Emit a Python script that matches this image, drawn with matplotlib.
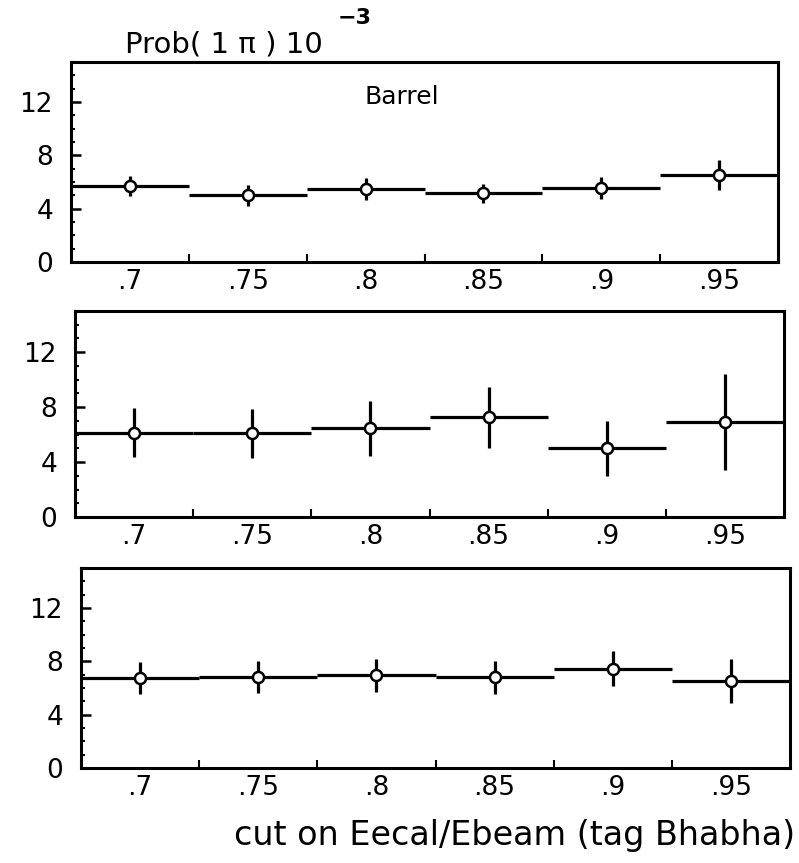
import matplotlib
matplotlib.use("Agg")
import matplotlib.pyplot as plt
from matplotlib.ticker import MultipleLocator, FixedLocator

plt.rcParams['font.family'] = ['DejaVu Sans']

# bin centres (cut value) and labels
cuts = [0.70, 0.75, 0.80, 0.85, 0.90, 0.95]
cut_labels = ['.7', '.75', '.8', '.85', '.9', '.95']
bin_half = 0.025

# Prob(1 pi) in units of 1e-3, with errors, one list per panel
prob_barrel = [5.7, 5.0, 5.45, 5.15, 5.55, 6.5]
err_barrel = [0.75, 0.8, 0.82, 0.7, 0.8, 1.12]

prob_mid = [6.15, 6.1, 6.45, 7.25, 5.0, 6.9]
err_mid = [1.8, 1.8, 2.0, 2.2, 2.0, 3.5]

prob_low = [6.75, 6.85, 6.95, 6.8, 7.45, 6.55]
err_low = [1.2, 1.2, 1.22, 1.25, 1.33, 1.65]

panels = [(prob_barrel, err_barrel), (prob_mid, err_mid), (prob_low, err_low)]

W, H = 799, 863
fig = plt.figure(figsize=(W / 100, H / 100), dpi=100)

# axes boxes in pixels: left, right, top, bottom
boxes = [(71, 778, 62, 262), (75, 784, 311, 517), (81, 790, 568, 768)]

for (vals, errs), (l, r, t, b) in zip(panels, boxes):
    ax = fig.add_axes([l / W, 1 - b / H, (r - l) / W, (b - t) / H])
    ax.errorbar(cuts, vals, xerr=bin_half, yerr=errs, fmt='o', color='black',
                mfc='white', mec='black', ms=8, mew=1.8, elinewidth=2.3,
                capsize=0)
    ax.set_xlim(0.675, 0.975)
    ax.set_ylim(0, 15)
    for s in ax.spines.values():
        s.set_linewidth(2.2)
    ax.yaxis.set_major_locator(FixedLocator([0, 4, 8, 12]))
    ax.yaxis.set_minor_locator(MultipleLocator(1))
    ax.tick_params(axis='y', which='major', direction='in', length=7, width=1.8,
                   labelsize=19, pad=13)
    ax.tick_params(axis='y', which='minor', direction='in', length=3, width=1.5)
    # ticks at bin edges, labels at bin centres
    edges = [c + bin_half for c in cuts[:-1]]
    ax.xaxis.set_major_locator(FixedLocator(edges))
    ax.set_xticklabels([])
    ax.xaxis.set_minor_locator(FixedLocator(cuts))
    ax.xaxis.set_minor_formatter(plt.FixedFormatter(cut_labels))
    ax.tick_params(axis='x', which='major', direction='in', length=6, width=1.5)
    ax.tick_params(axis='x', which='minor', length=0, labelsize=19, pad=5)

fig.text(402 / W, 1 - 97 / H, 'Barrel', fontsize=18, ha='center', va='center')
fig.text(125 / W, 1 - 45 / H, 'Prob( 1 \u03c0 ) 10', fontsize=21, ha='left', va='center')
fig.text(338 / W, 1 - 18 / H, '\u22123', fontsize=16, fontweight='bold',
         ha='left', va='center')
fig.text(795 / W, 1 - 835 / H, 'cut on Eecal/Ebeam (tag Bhabha)', fontsize=24,
         ha='right', va='center')

fig.savefig('out.png', dpi=100)
